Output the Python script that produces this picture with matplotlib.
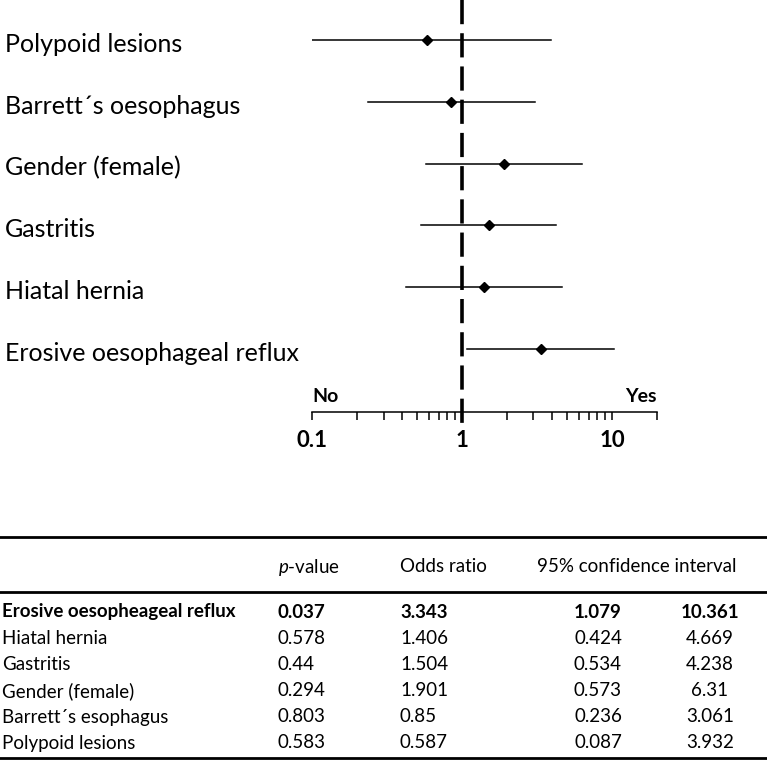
import matplotlib.pyplot as plt
from matplotlib.lines import Line2D
import matplotlib.transforms as mtransforms

plt.rcParams['font.family'] = ['Lato', 'DejaVu Sans']
plt.rcParams['mathtext.fontset'] = 'custom'
plt.rcParams['mathtext.it'] = 'Lato:italic'
plt.rcParams['mathtext.rm'] = 'Lato'

# table order (top to bottom)
table_names = ['Erosive oesopheageal reflux', 'Hiatal hernia', 'Gastritis',
               'Gender (female)', 'Barrett\u00b4s esophagus', 'Polypoid lesions']
plot_names = ['Erosive oesophageal reflux', 'Hiatal hernia', 'Gastritis',
              'Gender (female)', 'Barrett\u00b4s oesophagus', 'Polypoid lesions']
p_vals = [0.037, 0.578, 0.44, 0.294, 0.803, 0.583]
odds = [3.343, 1.406, 1.504, 1.901, 0.85, 0.587]
ci_low = [1.079, 0.424, 0.534, 0.573, 0.236, 0.087]
ci_high = [10.361, 4.669, 4.238, 6.31, 3.061, 3.932]

W, H = 767, 760
fig = plt.figure(figsize=(W / 100, H / 100), dpi=100)

def fx(px):
    return px / W

def fy(py):
    return 1 - py / H

# forest plot axes: x 0.1..20 -> px 312..657, bottom spine at px 412
ax = fig.add_axes([fx(312), fy(412), fx(657) - fx(312), fy(0) - fy(412)])
ax.set_xscale('log')
ax.set_xlim(0.1, 20)
ax.set_ylim(6.02, -0.647)

lab_tr = mtransforms.blended_transform_factory(fig.transFigure, ax.transData)
n = len(plot_names)
for i in range(n):
    k = n - 1 - i  # plot order is reversed table order
    ax.plot([ci_low[k], ci_high[k]], [i, i], color='black', lw=1.1)
    ax.plot(odds[k], i, marker='D', color='black', ms=5.5)
    ax.text(fx(5), i + 0.07, plot_names[k], fontsize=18, transform=lab_tr,
            va='center', ha='left')

# reference line at OR = 1
ax.plot([1, 1], [-0.647, 6.23], color='black', lw=2.6, ls=(0, (6.7, 2.5)),
        clip_on=False, zorder=5)

for s in ['top', 'left', 'right']:
    ax.spines[s].set_visible(False)
ax.spines['bottom'].set_linewidth(1.1)
ax.set_yticks([])
ax.set_xticks([0.1, 1, 10])
ax.set_xticklabels(['0.1', '1', '10'], fontsize=16, fontweight='bold')
ax.tick_params(axis='x', which='major', length=6, width=1.1, direction='out', pad=7)
ax.tick_params(axis='x', which='minor', length=6, width=1.1, direction='out')
fig.text(fx(312), fy(397), 'No', fontsize=14, fontweight='bold', ha='left', va='center')
fig.text(fx(657), fy(397), 'Yes', fontsize=14, fontweight='bold', ha='right', va='center')

# table
for py in [537, 592, 758]:
    fig.add_artist(Line2D([0, 1], [fy(py), fy(py)], color='black', lw=2.0))

fs = 13.5
hy = fy(567)
fig.text(fx(278), hy, '$p$-value', fontsize=fs, ha='left', va='center')
fig.text(fx(400), hy, 'Odds ratio', fontsize=fs, ha='left', va='center')
fig.text(fx(537), hy, '95% confidence interval', fontsize=fs, ha='left', va='center')

row_y = [612, 638, 665, 691, 717, 743]
for r in range(len(table_names)):
    y = fy(row_y[r])
    w = 'bold' if r == 0 else 'normal'
    fig.text(fx(2), y, table_names[r], fontsize=fs, fontweight=w, ha='left', va='center')
    fig.text(fx(278), y, f'{p_vals[r]:g}', fontsize=fs, fontweight=w, ha='left', va='center')
    fig.text(fx(400), y, f'{odds[r]:g}', fontsize=fs, fontweight=w, ha='left', va='center')
    fig.text(fx(598), y, f'{ci_low[r]:g}', fontsize=fs, fontweight=w, ha='center', va='center')
    fig.text(fx(710), y, f'{ci_high[r]:g}', fontsize=fs, fontweight=w, ha='center', va='center')

fig.savefig('out.png', dpi=100)
